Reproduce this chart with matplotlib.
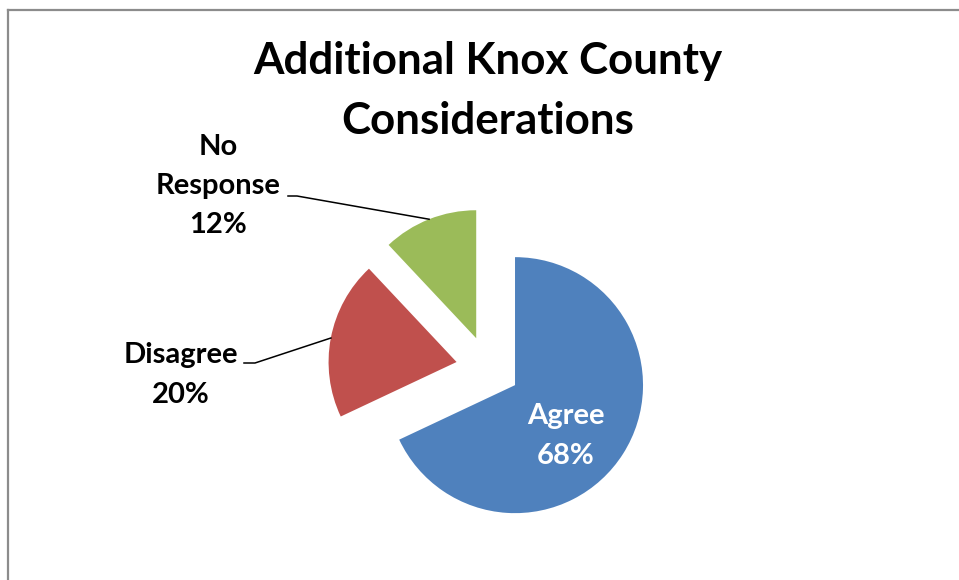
import numpy as np
import matplotlib
matplotlib.use("Agg")
import matplotlib.pyplot as plt
from matplotlib.lines import Line2D

## DATA

labels = ["Agree", "Disagree", "No\nResponse"]
shares = [68, 20, 12]
colors = ["#4F81BD", "#C0504D", "#9BBB59"]
explode = [0.25, 0.25, 0.25]

## LAYOUT (pixels)

W, H = 959, 580
cx, cy = 488, 368      # pie centre
R = 128                # pie radius

def to_data(x, y):
    # pixel position -> data coordinates (one data unit = radius)
    return (x - cx) / R, (cy - y) / R

fig = plt.figure(figsize=(W / 100, H / 100), dpi=100)
ax = fig.add_axes([0, 0, 1, 1])

wedges, _ = ax.pie(shares, colors=colors, explode=explode, startangle=90,
                   counterclock=False, radius=1, center=(0, 0), frame=True,
                   wedgeprops=dict(linewidth=0))
ax.set_xlim(-cx / R, (W - cx) / R)
ax.set_ylim(-(H - cy) / R, cy / R)
ax.axis("off")

font = "Lato"
lab_size = 21
lab_spacing = 1.62

# Agree label inside its slice
ax.text(*to_data(566, 436), "Agree\n68%", color="white", fontsize=lab_size,
        fontweight="bold", family=font, ha="center", va="center", linespacing=lab_spacing)

# outside labels with leader lines to the arc midpoint
outside = [
    (1, "Disagree\n20%", (181, 375), (244, 363), (255, 363)),
    (2, "No\nResponse\n12%", (218, 186), (288, 196), (297, 196)),
]
for i, text, pos, p0, p1 in outside:
    w = wedges[i]
    mid = np.deg2rad((w.theta1 + w.theta2) / 2)
    # exploded centre plus one radius along the mid angle
    arc = (1 + explode[i]) * np.cos(mid), (1 + explode[i]) * np.sin(mid)
    a, b = to_data(*p0), to_data(*p1)
    ax.plot([a[0], b[0], arc[0]], [a[1], b[1], arc[1]], color="black", lw=1.1)
    ax.text(*to_data(*pos), text, color="black", fontsize=lab_size,
            fontweight="bold", family=font, ha="center", va="center", linespacing=lab_spacing)

# title
ax.text(*to_data(488, 91), "Additional Knox County\nConsiderations", fontsize=31.6,
        fontweight="bold", family=font, ha="center", va="center", linespacing=1.58)

# chart border (top and left edges visible)
fig.add_artist(Line2D([8 / W, 1], [1 - 10 / H, 1 - 10 / H], color="#8C8C8C", lw=1.6))
fig.add_artist(Line2D([8 / W, 8 / W], [0, 1 - 10 / H], color="#8C8C8C", lw=1.6))

fig.savefig("out.png", dpi=100)
